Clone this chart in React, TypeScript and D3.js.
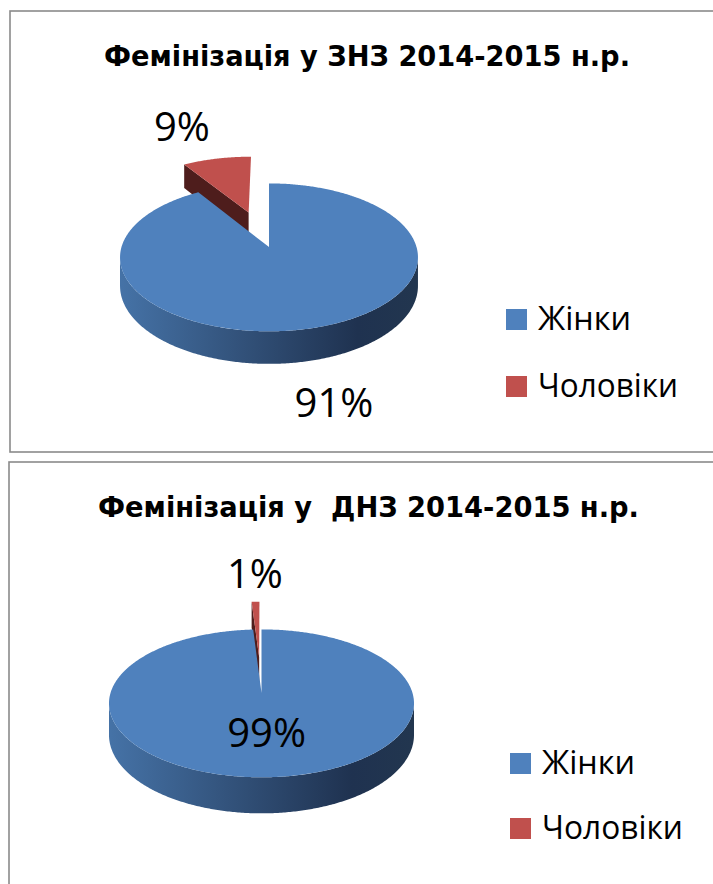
import React from 'react';
import * as d3 from 'd3';

// series
const categories = ['Жінки', 'Чоловіки'];
const valuesZNZ = [91, 9];
const valuesDNZ = [99, 1];
const labelsZNZ = ['91%', '9%'];
const labelsDNZ = ['99%', '1%'];
const titleZNZ = 'Фемінізація у ЗНЗ 2014-2015 н.р.';
const titleDNZ = 'Фемінізація у  ДНЗ 2014-2015 н.р.';

const topColors = ['#4F81BD', '#C0504D'];
const faceColors = ['#2A4468', '#4E1D1C'];
const explode = [0, 0.53];

const FONT = "'Open Sans', 'Noto Sans', sans-serif";
const TITLE_FONT = "'Liberation Sans Narrow', 'DejaVu Sans Condensed', Roboto, sans-serif";

type Layout = {
  id: string;
  box: { x: number; y: number; h: number };
  title: { x: number; y: number; len: number };
  cx: number; cy: number; rx: number; ry: number; depth: number; p: number;
  labelK: [number, number][];
  legend: { x: number; y: number; step: number; textLen: number[] };
};

const panels: { values: number[]; labels: string[]; title: string; L: Layout }[] = [
  {
    values: valuesZNZ, labels: labelsZNZ, title: titleZNZ,
    L: {
      id: 'znz',
      box: { x: 10, y: 11, h: 441 },
      title: { x: 367, y: 66, len: 526 },
      cx: 269, cy: 247, rx: 147.5, ry: 72.5, depth: 28, p: 0.14,
      labelK: [[1.58, 2.23], [1.62, 1.24]],
      legend: { x: 506, y: 309, step: 67, textLen: [93, 140] },
    },
  },
  {
    values: valuesDNZ, labels: labelsDNZ, title: titleDNZ,
    L: {
      id: 'dnz',
      box: { x: 9, y: 462, h: 480 },
      title: { x: 368.5, y: 517, len: 541 },
      cx: 261.5, cy: 693, rx: 151, ry: 72.5, depth: 31, p: 0.14,
      labelK: [[1.07, 0.55], [0.89, 1.16]],
      legend: { x: 510, y: 753, step: 65, textLen: [93, 141] },
    },
  },
];

const proj = (L: Layout, t: number, r: number, h: number, ox: number, oz: number): [number, number] => {
  const x = ox + r * Math.sin(t);
  const z = oz + r * Math.cos(t);
  const s = 1 + L.p * z;
  return [L.cx + (L.rx * x) / s, L.cy - (L.ry * z) / s + h / s];
};

const arcPts = (L: Layout, a0: number, a1: number, h: number, ox: number, oz: number) => {
  const n = Math.max(2, Math.ceil(Math.abs(a1 - a0) / 0.01));
  return d3.range(n + 1).map(i => proj(L, a0 + ((a1 - a0) * i) / n, 1, h, ox, oz));
};

const line = d3.line();

function Pie3D({ values, labels, title, L }: { values: number[]; labels: string[]; title: string; L: Layout }) {
  const arcs = d3.pie<number>().sort(null).value(d => d)(values);
  const vis0 = Math.acos(-L.p);
  const vis1 = 2 * Math.PI - vis0;

  const slices = arcs.map((a, i) => {
    const mid = (a.startAngle + a.endAngle) / 2;
    const ox = explode[i] * Math.sin(mid);
    const oz = explode[i] * Math.cos(mid);
    const vTop = proj(L, 0, 0, 0, ox, oz);
    const vBot = proj(L, 0, 0, L.depth, ox, oz);
    const top = line([vTop, ...arcPts(L, a.startAngle, a.endAngle, 0, ox, oz)]) + 'Z';
    const faces: string[] = [];
    if (Math.sin(a.startAngle) < -0.01) {
      faces.push(line([vTop, proj(L, a.startAngle, 1, 0, ox, oz), proj(L, a.startAngle, 1, L.depth, ox, oz), vBot]) + 'Z');
    }
    if (Math.sin(a.endAngle) > 0.01) {
      faces.push(line([vTop, proj(L, a.endAngle, 1, 0, ox, oz), proj(L, a.endAngle, 1, L.depth, ox, oz), vBot]) + 'Z');
    }
    const b0 = Math.max(a.startAngle, vis0);
    const b1 = Math.min(a.endAngle, vis1);
    const wall = b1 > b0
      ? line([...arcPts(L, b0, b1, 0, ox, oz), ...arcPts(L, b1, b0, L.depth, ox, oz)]) + 'Z'
      : null;
    const [kx, ky] = L.labelK[i];
    const label: [number, number] = [vTop[0] + L.rx * kx * Math.sin(mid), vTop[1] - L.ry * ky * Math.cos(mid)];
    return { i, mid, oz, top, faces, wall, label };
  });

  // back to front
  const order = [...slices].sort((a, b) => (b.oz + Math.cos(b.mid)) - (a.oz + Math.cos(a.mid)));
  const gid = `wall-${L.id}`;
  const lg = L.legend;

  return (
    <g>
      <defs>
        <linearGradient id={gid} gradientUnits="userSpaceOnUse" x1={L.cx - L.rx} x2={L.cx + L.rx} y1={0} y2={0}>
          <stop offset="0" stopColor="#4572A6" />
          <stop offset="0.45" stopColor="#304E75" />
          <stop offset="0.8" stopColor="#1F3250" />
          <stop offset="1" stopColor="#22364F" />
        </linearGradient>
        <linearGradient id={`${gid}-r`} gradientUnits="userSpaceOnUse" x1={L.cx - L.rx} x2={L.cx + L.rx} y1={0} y2={0}>
          <stop offset="0" stopColor="#8E3B39" />
          <stop offset="1" stopColor="#4E1D1C" />
        </linearGradient>
      </defs>
      <rect x={L.box.x} y={L.box.y} width={760} height={L.box.h} fill="#fff" stroke="#8A8A8A" strokeWidth={1.6} />
      <text x={L.title.x} y={L.title.y} textAnchor="middle" fontFamily={TITLE_FONT} fontWeight={700} fontSize={28}
        textLength={L.title.len} lengthAdjust="spacingAndGlyphs" fill="#000" style={{ whiteSpace: 'pre' }}>
        {title}
      </text>
      {order.map(s => (
        <g key={s.i}>
          {s.faces.map((f, j) => <path key={j} d={f} fill={faceColors[s.i]} />)}
          {s.wall && <path d={s.wall} fill={s.i === 0 ? `url(#${gid})` : `url(#${gid}-r)`} />}
          <path d={s.top} fill={topColors[s.i]} />
        </g>
      ))}
      {slices.map(s => (
        <text key={`l${s.i}`} x={s.label[0]} y={s.label[1]} dy="0.36em" textAnchor="middle"
          fontFamily={FONT} fontSize={40} fill="#000">
          {labels[s.i]}
        </text>
      ))}
      {categories.map((c, i) => (
        <g key={c} transform={`translate(${lg.x},${lg.y + i * lg.step})`}>
          <rect width={21} height={21} fill={topColors[i]} />
          <text x={32} y={21} fontFamily={FONT} fontSize={32} fill="#000"
            textLength={lg.textLen[i]} lengthAdjust="spacingAndGlyphs">
            {c}
          </text>
        </g>
      ))}
    </g>
  );
}

export default function App() {
  return (
    <svg width={713} height={884} style={{ position: 'absolute', left: 0, top: 0, display: 'block' }}>
      <rect width={713} height={884} fill="#fff" />
      {panels.map(pn => (
        <Pie3D key={pn.L.id} {...pn} />
      ))}
    </svg>
  );
}
